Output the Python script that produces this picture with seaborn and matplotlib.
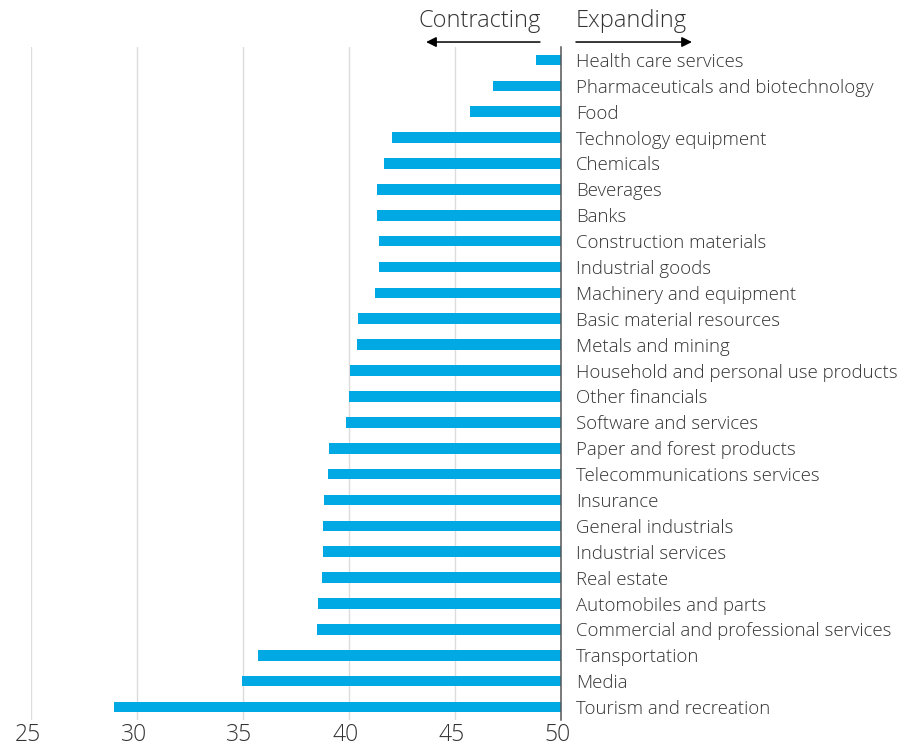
import matplotlib
matplotlib.use("Agg")
import matplotlib.pyplot as plt
import matplotlib.transforms as mtransforms
from matplotlib.ticker import FuncFormatter
import numpy as np
import pandas as pd
import seaborn as sns

# Sector readings (50 = no change; below 50 = contracting)
sectors = [
    "Health care services",
    "Pharmaceuticals and biotechnology",
    "Food",
    "Technology equipment",
    "Chemicals",
    "Beverages",
    "Banks",
    "Construction materials",
    "Industrial goods",
    "Machinery and equipment",
    "Basic material resources",
    "Metals and mining",
    "Household and personal use products",
    "Other financials",
    "Software and services",
    "Paper and forest products",
    "Telecommunications services",
    "Insurance",
    "General industrials",
    "Industrial services",
    "Real estate",
    "Automobiles and parts",
    "Commercial and professional services",
    "Transportation",
    "Media",
    "Tourism and recreation",
]
readings = [
    48.84, 46.83, 45.73, 42.04, 41.69, 41.36, 41.33, 41.45, 41.42, 41.25,
    40.45, 40.42, 40.07, 40.04, 39.87, 39.07, 39.03, 38.84, 38.81, 38.78,
    38.75, 38.56, 38.53, 35.75, 34.97, 28.95,
]
tick_values = [25, 30, 35, 40, 45, 50]

NEUTRAL = 50
BAR_COLOR = "#00A8E4"
TEXT_COLOR = "#333333"

sns.set_theme(style="white")
plt.rcParams["font.family"] = ["Open Sans", "DejaVu Sans"]

df = pd.DataFrame({"sector": sectors, "reading": readings})
# Bars grow leftward from the neutral line at 50
df["offset"] = df["reading"] - NEUTRAL

W, H = 902, 745
fig = plt.figure(figsize=(W / 100, H / 100), dpi=100)
ax = fig.add_axes([30.5 / W, 1 - 720 / H, 530 / W, 673 / H])

sns.barplot(data=df, x="offset", y="sector", orient="h", color=BAR_COLOR,
            width=0.41, saturation=1, ax=ax, linewidth=0)

ax.set_xlim(tick_values[0] - NEUTRAL, 0)
ax.set_xticks([t - NEUTRAL for t in tick_values])
ax.xaxis.set_major_formatter(FuncFormatter(lambda v, _: f"{v + NEUTRAL:.0f}"))
ax.set_xlabel("")
ax.set_ylabel("")

# Light vertical gridlines, drawn behind the bars
for t in tick_values[:-1]:
    ax.axvline(t - NEUTRAL, color="#dcdcdc", lw=1.0, zorder=0)

for side in ["top", "left", "bottom"]:
    ax.spines[side].set_visible(False)
ax.spines["right"].set_color("#555555")
ax.spines["right"].set_linewidth(1.1)

ax.yaxis.tick_right()
ax.tick_params(axis="y", length=0, pad=11, labelsize=13.4, labelcolor=TEXT_COLOR)
ax.tick_params(axis="x", length=0, pad=2, labelsize=16.5, labelcolor=TEXT_COLOR)
shift = mtransforms.ScaledTranslation(-3 / 100, 0, fig.dpi_scale_trans)
for lbl in ax.get_xticklabels():
    lbl.set_fontweight("light")
    lbl.set_transform(lbl.get_transform() + shift)
for lbl in ax.get_yticklabels():
    lbl.set_fontweight("light")

# Direction header above the neutral line
trans = mtransforms.blended_transform_factory(ax.transData, ax.transAxes)
arrow_y = 1.0074
ax.annotate("", xy=(-6.34, arrow_y), xytext=(-0.97, arrow_y),
            xycoords=trans, textcoords=trans, annotation_clip=False,
            arrowprops=dict(arrowstyle="-|>", color="black", lw=1.1,
                            mutation_scale=15, shrinkA=0, shrinkB=0))
ax.annotate("", xy=(6.2, arrow_y), xytext=(0.73, arrow_y),
            xycoords=trans, textcoords=trans, annotation_clip=False,
            arrowprops=dict(arrowstyle="-|>", color="black", lw=1.1,
                            mutation_scale=15, shrinkA=0, shrinkB=0))
ax.text(-0.92, 1.038, "Contracting", transform=trans, ha="right", va="center",
        fontsize=17, color=TEXT_COLOR, fontweight="light")
ax.text(0.73, 1.038, "Expanding", transform=trans, ha="left", va="center",
        fontsize=17, color=TEXT_COLOR, fontweight="light")

fig.savefig("out.png", dpi=100)
